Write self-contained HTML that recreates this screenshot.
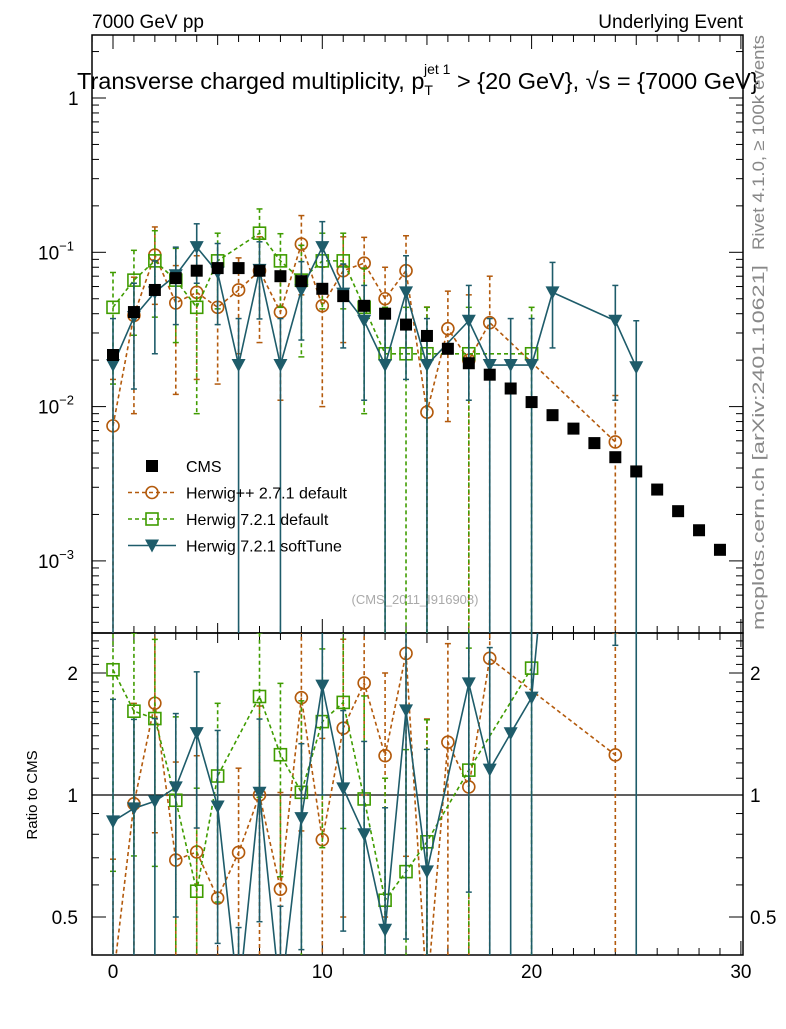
<!DOCTYPE html>
<html><head><meta charset="utf-8"><style>
html,body{margin:0;padding:0;background:#fff;}
svg text{font-family:"Liberation Sans",sans-serif;}
</style></head><body>
<svg id="c" width="786" height="1024" xmlns="http://www.w3.org/2000/svg">
<defs>
<clipPath id="cm"><rect x="92" y="35" width="651" height="598"/></clipPath>
<clipPath id="cr"><rect x="92" y="633" width="651" height="322"/></clipPath>
</defs>
<text x="92" y="28" font-size="19">7000 GeV pp</text>
<text x="743" y="28" font-size="19" text-anchor="end">Underlying Event</text>
<text x="77" y="89" font-size="23.5">Transverse charged multiplicity, p<tspan font-size="14" dy="6">T</tspan><tspan font-size="14" dx="-9" dy="-21">jet 1</tspan><tspan dy="15"> &gt; {20 GeV}, √s = {7000 GeV}</tspan></text>
<text transform="translate(764,250) rotate(-90)" font-size="17" fill="#888" textLength="215" lengthAdjust="spacingAndGlyphs">Rivet 4.1.0, ≥ 100k events</text>
<text transform="translate(764,630) rotate(-90)" font-size="17" fill="#888" textLength="365" lengthAdjust="spacingAndGlyphs">mcplots.cern.ch [arXiv:2401.10621]</text>
<text x="415" y="604" font-size="13" fill="#aaa" text-anchor="middle">(CMS_2011_I916908)</text>
<text transform="translate(37,795) rotate(-90)" font-size="15" text-anchor="middle">Ratio to CMS</text>
<g id="axes"></g>
<g id="mainSeries" clip-path="url(#cm)"></g>
<g id="ratioSeries" clip-path="url(#cr)"></g>
<g id="legend"></g>
</svg>
<script>
const cmsX=[0,1,2,3,4,5,6,7,8,9,10,11,12,13,14,15,16,17,18,19,20,21,22,23,24,25,26,27,28,29];
const cmsY=[0.0216,0.041,0.057,0.068,0.076,0.079,0.079,0.076,0.070,0.065,0.058,0.052,0.045,0.040,0.034,0.0287,0.0237,0.0191,0.0161,0.0131,0.0107,0.0088,0.0072,0.0058,0.0047,0.0038,0.0029,0.0021,0.00158,0.00118];
const hppX=[0,1,2,3,4,5,6,7,8,9,10,11,12,13,14,15,16,17,18,24];
const hppY=[0.0075,0.039,0.096,0.047,0.055,0.044,0.057,0.076,0.041,0.113,0.045,0.076,0.085,0.050,0.076,0.0092,0.032,0.020,0.035,0.0059];
const hppE=[0.0075,0.03,0.05,0.035,0.04,0.03,0.035,0.05,0.03,0.06,0.035,0.05,0.04,0.03,0.052,0.035,0.024,0.033,0.035,0.0059];
const h7X=[0,1,2,3,4,5,7,8,9,10,11,12,13,14,15,17,20];
const h7Y=[0.044,0.066,0.088,0.066,0.044,0.088,0.133,0.088,0.066,0.088,0.088,0.044,0.022,0.022,0.022,0.022,0.022];
const h7E=[0.03,0.037,0.05,0.04,0.035,0.045,0.058,0.044,0.045,0.045,0.045,0.035,0.022,0.022,0.022,0.022,0.022];
const stX=[0,1,2,3,4,5,6,7,8,9,10,11,12,13,14,15,17,18,19,20,21,24,25];
const stY=[0.0186,0.038,0.055,0.071,0.108,0.074,0.0186,0.077,0.0186,0.057,0.108,0.054,0.036,0.0186,0.055,0.0186,0.036,0.0186,0.0186,0.0186,0.055,0.036,0.018];
const stE=[0.0186,0.025,0.033,0.037,0.045,0.04,0.0186,0.04,0.0186,0.03,0.05,0.03,0.025,0.0186,0.04,0.0186,0.025,0.0186,0.0186,0.0186,0.031,0.025,0.018];
const xTicks=[0,10,20,30];
const ratioTicks=[0.5,1,2];

const NS="http://www.w3.org/2000/svg";
const X=v=>113+v*20.93;
const YM=v=>98-154.3*Math.log10(v);
const YR=r=>795-405.3*Math.log10(r);
const YMc=v=>v<=0?700:Math.min(YM(v),700);
const YRc=r=>r<=0?1000:Math.min(YR(r),1000);
function mk(p,tag,at){const e=document.createElementNS(NS,tag);for(const k in at)e.setAttribute(k,at[k]);p.appendChild(e);return e;}
const ax=document.getElementById('axes');
let f1=mk(ax,'rect',{x:92,y:35,width:651,height:598,fill:'none',stroke:'#000','stroke-width':1.5});


let f2=mk(ax,'rect',{x:92,y:633,width:651,height:322,fill:'none',stroke:'#000','stroke-width':1.5});


for(let v=-1;v<=30;v++){
  const major=v%10===0, len=major?14:(v%5===0?10:7);
  if(X(v)<92)continue;
  for(const [yb,yt] of [[633,35],[955,633]]){
    mk(ax,'line',{x1:X(v),x2:X(v),y1:yb,y2:yb-len,stroke:'#000'});
    mk(ax,'line',{x1:X(v),x2:X(v),y1:yt,y2:yt+len,stroke:'#000'});
  }
}
xTicks.forEach(v=>{const t=mk(ax,'text',{x:X(v),y:978,'font-size':19,'text-anchor':'middle'});t.textContent=v;

});
for(let d=-4;d<=0;d++){for(let m=1;m<=9;m++){const v=m*Math.pow(10,d);const y=YM(v);if(y<35||y>633)continue;
 const len=m===1?14:7;mk(ax,'line',{x1:92,x2:92+len,y1:y,y2:y,stroke:'#000'});mk(ax,'line',{x1:743,x2:743-len,y1:y,y2:y,stroke:'#000'});}}
[[0,'1'],[-1,'10'],[-2,'10'],[-3,'10']].forEach(([d,s])=>{const y=YM(Math.pow(10,d));
 const t=mk(ax,'text',{x:d===0?68:38,y:y+7,'font-size':19});t.textContent=s;
 
 
 if(d<0){const s2=mk(t,'tspan',{'font-size':13,dy:-9});s2.textContent='−'+(-d);}});
for(let r=0.4;r<=2.5;r+=0.1){const y=YR(r);if(y<633||y>955)continue;const maj=[0.5,1,2].some(q=>Math.abs(q-r)<1e-6);const len=maj?14:7;
 mk(ax,'line',{x1:92,x2:92+len,y1:y,y2:y,stroke:'#000'});mk(ax,'line',{x1:743,x2:743-len,y1:y,y2:y,stroke:'#000'});}
ratioTicks.forEach(r=>{const y=YR(r);
 let t=mk(ax,'text',{x:78,y:y+7,'font-size':19,'text-anchor':'end'});t.textContent=r;
 
 
 t=mk(ax,'text',{x:750,y:y+7,'font-size':19});t.textContent=r;
 
 });
const ul=mk(ax,'line',{x1:92,x2:743,y1:YR(1),y2:YR(1),stroke:'#000','stroke-width':1.2});



function marker(g,type,cx,cy,col){
 if(type==='circle')return mk(g,'circle',{cx,cy,r:6,fill:'none',stroke:col,'stroke-width':1.6});
 if(type==='square')return mk(g,'rect',{x:cx-6,y:cy-6,width:12,height:12,fill:'none',stroke:col,'stroke-width':1.6});
 if(type==='tri')return mk(g,'polygon',{points:`${cx-7},${cy-6} ${cx+7},${cy-6} ${cx},${cy+7}`,fill:col});
 if(type==='fsq')return mk(g,'rect',{x:cx-6,y:cy-6,width:12,height:12,fill:col});
}
const cmsMap={};cmsX.forEach((x,i)=>cmsMap[x]=cmsY[i]);
function series(name,xs,ys,es,col,dash,type){
 for(const [gid,yf,norm] of [['mainSeries',YMc,false],['ratioSeries',YRc,true]]){
  const g=mk(document.getElementById(gid),'g',{});
  
  
  const pts=xs.map((x,i)=>{const n=norm?cmsMap[x]:1;return [X(x),yf(ys[i]/n),yf((ys[i]+es[i])/n),yf((ys[i]-es[i])/n)];});
  const pl=mk(g,'polyline',{points:pts.map(p=>p[0]+','+p[1]).join(' '),fill:'none',stroke:col,'stroke-width':1.6,'stroke-dasharray':dash});
  
  
  pts.forEach(p=>{
   mk(g,'line',{x1:p[0],x2:p[0],y1:p[2],y2:p[3],stroke:col,'stroke-width':1.6,'stroke-dasharray':dash});
   mk(g,'line',{x1:p[0]-3,x2:p[0]+3,y1:p[2],y2:p[2],stroke:col,'stroke-width':1.5});
   mk(g,'line',{x1:p[0]-3,x2:p[0]+3,y1:p[3],y2:p[3],stroke:col,'stroke-width':1.5});
   const m=marker(g,type,p[0],p[1],col);
   
   
  });
 }
}
series('herwigpp-271',hppX,hppY,hppE,'#b35a0c','4,3','circle');
series('herwig-721-default',h7X,h7Y,h7E,'#3f9c00','4,3','square');
series('herwig-721-softtune',stX,stY,stE,'#1e5c6a','','tri');
const cg=mk(document.getElementById('mainSeries'),'g',{});


cmsX.forEach((x,i)=>{const m=marker(cg,'fsq',X(x),YM(cmsY[i]),'#000');
 
 });
const lg=document.getElementById('legend');


const items=[['CMS','#000','','fsq',false],['Herwig++ 2.7.1 default','#b35a0c','4,3','circle',true],['Herwig 7.2.1 default','#3f9c00','4,3','square',true],['Herwig 7.2.1 softTune','#1e5c6a','','tri',true]];
items.forEach((it,i)=>{const y=466+i*26.5;const g=mk(lg,'g',{});
 
 
 if(it[4])mk(g,'line',{x1:128,x2:176,y1:y,y2:y,stroke:it[1],'stroke-width':1.6,'stroke-dasharray':it[2]});
 marker(g,it[3],152,y,it[1]);
 const t=mk(g,'text',{x:186,y:y+6,'font-size':16});t.textContent=it[0];});
</script>
</body></html>
